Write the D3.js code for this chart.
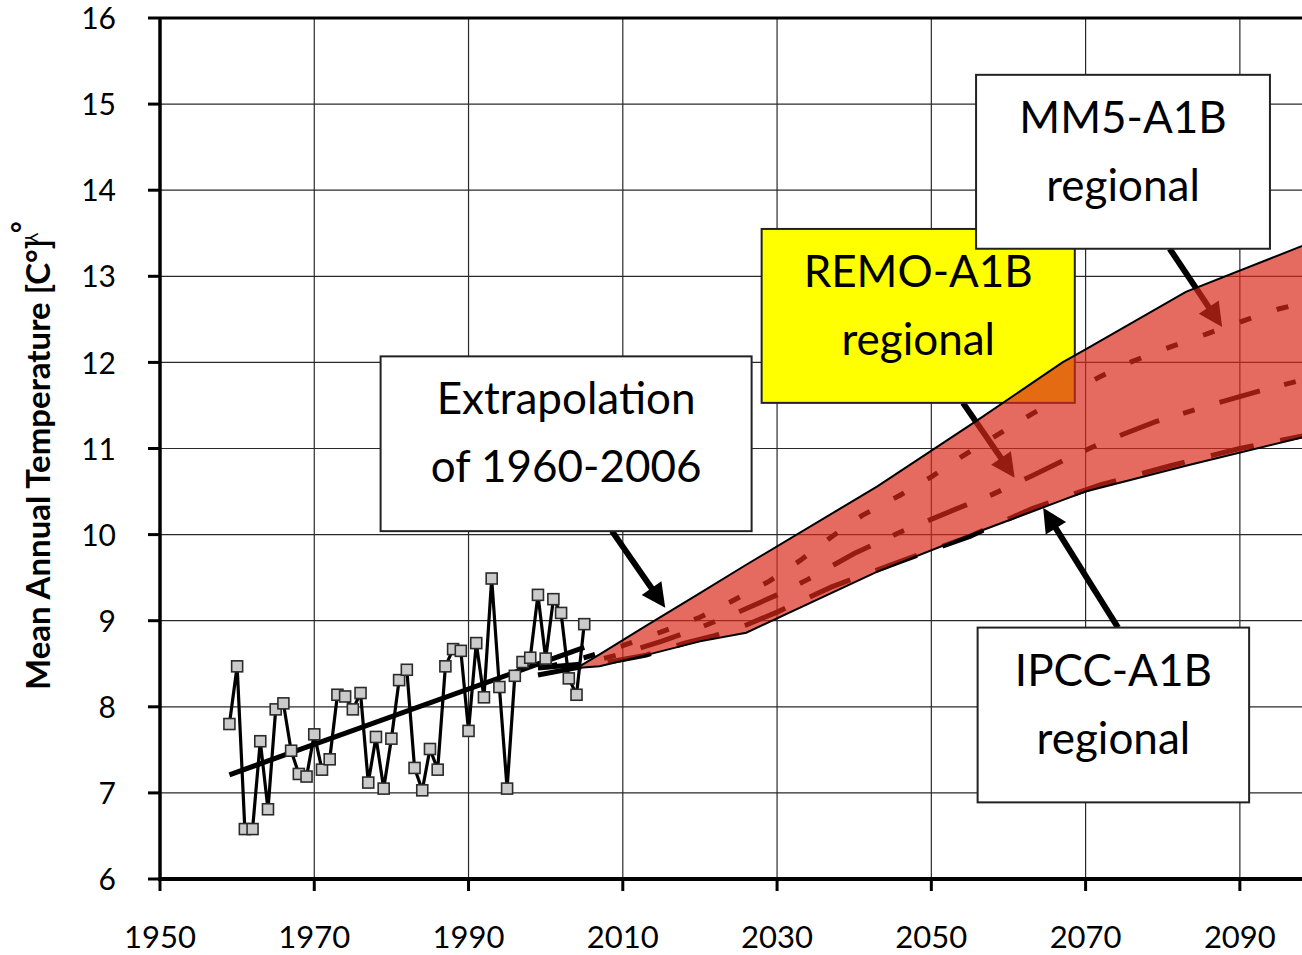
<!DOCTYPE html>
<html>
<head>
<meta charset="utf-8">
<script src="https://cdn.jsdelivr.net/npm/d3@7"></script>
<style>
  html, body { margin: 0; padding: 0; background: #fff; }
  svg { display: block; font-family: Lato, "Open Sans", sans-serif; }
</style>
</head>
<body>
<svg id="chart" width="1302" height="955"></svg>
<script>
// Observed annual means, 1959–2005
const obsYears = d3.range(1959, 2006);
const obsValues = [
  7.80, 8.47, 6.58, 6.58, 7.60, 6.81, 7.97, 8.04, 7.49, 7.22,
  7.19, 7.68, 7.27, 7.39, 8.14, 8.12, 7.97, 8.16, 7.12, 7.65,
  7.05, 7.63, 8.31, 8.43, 7.29, 7.03, 7.51, 7.27, 8.47, 8.67,
  8.65, 7.72, 8.74, 8.11, 9.49, 8.23, 7.05, 8.36, 8.52, 8.57,
  9.30, 8.56, 9.25, 9.09, 8.33, 8.14, 8.96
];

// Linear trend of the observations
const trendYears = [1959, 2005];
const trendValues = [7.21, 8.69];

// Range of the regional A1B projections
const bandYears = [2004, 2007, 2013, 2020, 2026, 2043, 2056, 2067, 2070, 2083, 2100];
const bandUpper = [8.45, 8.61, 8.94, 9.32, 9.65, 10.56, 11.33, 12.00, 12.15, 12.82, 13.42];
const bandLower = [8.45, 8.47, 8.60, 8.76, 8.86, 9.57, 10.03, 10.40, 10.50, 10.80, 11.17];

// MM5-A1B regional projection
const mm5Years = [2000, 2005, 2010, 2015, 2020, 2024, 2029, 2033, 2037, 2041, 2046, 2050, 2054, 2063, 2072, 2076, 2081, 2086, 2091, 2095, 2100];
const mm5Values = [8.46, 8.57, 8.71, 8.87, 9.04, 9.22, 9.46, 9.70, 9.97, 10.22, 10.46, 10.67, 10.91, 11.40, 11.84, 12.01, 12.18, 12.34, 12.50, 12.62, 12.73];

// REMO-A1B regional projection
const remoYears = [1999, 2005, 2010, 2015, 2020, 2025, 2030, 2034, 2040, 2046, 2053, 2058, 2063, 2068, 2073, 2079, 2086, 2093, 2100];
const remoValues = [8.45, 8.50, 8.62, 8.76, 8.92, 9.10, 9.30, 9.48, 9.78, 10.03, 10.29, 10.47, 10.68, 10.90, 11.10, 11.31, 11.50, 11.68, 11.84];

// IPCC-A1B regional projection
const ipccYears = [1999, 2005, 2010, 2013, 2018, 2022, 2026, 2030, 2037, 2046, 2055, 2063, 2072, 2081, 2090, 2100];
const ipccValues = [8.37, 8.47, 8.55, 8.60, 8.74, 8.83, 8.95, 9.10, 9.39, 9.69, 9.98, 10.30, 10.58, 10.80, 11.00, 11.18];

// Axis ticks
const xTicks = [1950, 1970, 1990, 2010, 2030, 2050, 2070, 2090];
const yTicks = [6, 7, 8, 9, 10, 11, 12, 13, 14, 15, 16];

// Callout boxes (in data units: year span and temperature span) and their arrows
const calloutLines = [
  ["Extrapolation", "of 1960-2006"],
  ["REMO-A1B", "regional"],
  ["MM5-A1B", "regional"],
  ["IPCC-A1B", "regional"]
];
const calloutX0 = [1978.6, 2028.0, 2055.8, 2056.0];
const calloutX1 = [2026.7, 2068.6, 2093.9, 2091.2];
const calloutY0 = [12.07, 13.55, 15.34, 8.92];
const calloutY1 = [10.04, 11.53, 13.32, 6.89];
const calloutFill = ["#ffffff", "#ffff00", "#ffffff", "#ffffff"];
const arrowFrom = [[2008.6, 10.04], [2054.1, 11.53], [2080.9, 13.32], [2074.2, 8.92]];
const arrowTo = [[2015.5, 9.15], [2060.8, 10.66], [2087.7, 12.41], [2064.5, 10.31]];

const svg = d3.select("#chart");
const x = d3.scaleLinear().domain([1950, 2100]).range([160, 1317]);
const y = d3.scaleLinear().domain([6, 16]).range([879, 18]);

const zip = (xs, ys) => xs.map((v, i) => [v, ys[i]]);
const line = d3.line().x(d => x(d[0])).y(d => y(d[1]));

// Grid
const grid = svg.append("g");
grid.selectAll("line.v").data(xTicks.filter(t => t > 1950)).join("line")
  .attr("x1", d => x(d)).attr("x2", d => x(d))
  .attr("y1", y(16)).attr("y2", y(6))
  .attr("stroke", "#2a2a2a").attr("stroke-width", 1.2);
grid.selectAll("line.h").data(yTicks.filter(t => t > 6)).join("line")
  .attr("x1", x(1950)).attr("x2", x(2100))
  .attr("y1", d => y(d)).attr("y2", d => y(d))
  .attr("stroke", "#2a2a2a").attr("stroke-width", 1.2);

// Projection lines (drawn under the range band)
const proj = svg.append("g").attr("fill", "none").attr("stroke", "#000").attr("stroke-width", 5);
proj.append("path").attr("d", line(zip(ipccYears, ipccValues))).attr("stroke-dasharray", "44,27");
proj.append("path").attr("d", line(zip(remoYears, remoValues))).attr("stroke-dasharray", "42,25,12,26");
proj.append("path").attr("d", line(zip(mm5Years, mm5Values))).attr("stroke-dasharray", "12,27");

// Arrows
const arrows = svg.append("g");
arrowFrom.forEach((a, i) => {
  const x0 = x(a[0]), y0 = y(a[1]);
  const x1 = x(arrowTo[i][0]), y1 = y(arrowTo[i][1]);
  const ang = Math.atan2(y1 - y0, x1 - x0);
  const headL = 24, headW = 12;
  const bx = x1 - headL * Math.cos(ang), by = y1 - headL * Math.sin(ang);
  arrows.append("line")
    .attr("x1", x0).attr("y1", y0).attr("x2", bx + 2 * Math.cos(ang)).attr("y2", by + 2 * Math.sin(ang))
    .attr("stroke", "#000").attr("stroke-width", 6);
  const px = -Math.sin(ang), py = Math.cos(ang);
  arrows.append("path")
    .attr("d", `M${x1},${y1}L${bx + headW * px},${by + headW * py}L${bx - headW * px},${by - headW * py}Z`)
    .attr("fill", "#000");
});

// Callout boxes
const boxes = svg.append("g");
calloutLines.forEach((lines, i) => {
  const bx0 = x(calloutX0[i]), bx1 = x(calloutX1[i]);
  const by0 = y(calloutY0[i]), by1 = y(calloutY1[i]);
  boxes.append("rect")
    .attr("x", bx0).attr("y", by0).attr("width", bx1 - bx0).attr("height", by1 - by0)
    .attr("fill", calloutFill[i]).attr("stroke", "#222").attr("stroke-width", 2);
  lines.forEach((t, j) => {
    boxes.append("text")
      .attr("x", (bx0 + bx1) / 2).attr("y", by0 + 58 + j * 68)
      .attr("text-anchor", "middle").attr("font-size", 44).attr("fill", "#000")
      .text(t);
  });
});

// Range band of the projections
const area = d3.area().x(d => x(d[0])).y0(d => y(d[2])).y1(d => y(d[1]));
const bandData = bandYears.map((yr, i) => [yr, bandUpper[i], bandLower[i]]);
svg.append("path").attr("d", area(bandData))
  .attr("fill", "rgb(217,40,26)").attr("fill-opacity", 0.69);
svg.append("path").attr("d", line(zip(bandYears, bandUpper)))
  .attr("fill", "none").attr("stroke", "#000").attr("stroke-width", 2);
svg.append("path").attr("d", line(zip(bandYears, bandLower)))
  .attr("fill", "none").attr("stroke", "#000").attr("stroke-width", 2);

// Trend line
svg.append("path").attr("d", line(zip(trendYears, trendValues)))
  .attr("fill", "none").attr("stroke", "#000").attr("stroke-width", 5);

// Observations
const obs = zip(obsYears, obsValues);
svg.append("path").attr("d", line(obs))
  .attr("fill", "none").attr("stroke", "#000").attr("stroke-width", 3.2).attr("stroke-linejoin", "miter");
svg.append("g").selectAll("rect").data(obs).join("rect")
  .attr("x", d => x(d[0]) - 5.5).attr("y", d => y(d[1]) - 5.5)
  .attr("width", 11).attr("height", 11)
  .attr("fill", "#cbcbcb").attr("stroke", "#2b2b2b").attr("stroke-width", 1.6);

// Axes
const axes = svg.append("g");
axes.append("line").attr("x1", x(1950)).attr("x2", x(1950)).attr("y1", y(16)).attr("y2", y(6) + 2)
  .attr("stroke", "#000").attr("stroke-width", 3.5);
axes.append("line").attr("x1", x(1950) - 2).attr("x2", 1302).attr("y1", y(6)).attr("y2", y(6))
  .attr("stroke", "#000").attr("stroke-width", 4);
axes.append("line").attr("x1", x(1950)).attr("x2", 1302).attr("y1", y(16)).attr("y2", y(16))
  .attr("stroke", "#000").attr("stroke-width", 3);
axes.selectAll("line.yt").data(yTicks).join("line")
  .attr("x1", x(1950) - 12).attr("x2", x(1950))
  .attr("y1", d => y(d)).attr("y2", d => y(d))
  .attr("stroke", "#000").attr("stroke-width", 3);
axes.selectAll("line.xt").data(xTicks).join("line")
  .attr("x1", d => x(d)).attr("x2", d => x(d))
  .attr("y1", y(6)).attr("y2", y(6) + 12)
  .attr("stroke", "#000").attr("stroke-width", 3);
axes.selectAll("text.yl").data(yTicks).join("text")
  .attr("x", 116).attr("y", d => y(d)).attr("dy", "0.37em")
  .attr("text-anchor", "end").attr("font-size", 30).text(d => d);
axes.selectAll("text.xl").data(xTicks).join("text")
  .attr("x", d => x(d)).attr("y", 948)
  .attr("text-anchor", "middle").attr("font-size", 31).text(d => d);

// Axis title
const title = svg.append("text")
  .attr("transform", "translate(50,690) rotate(-90)")
  .attr("text-anchor", "start").attr("font-size", 33).attr("font-weight", "bold");
title.append("tspan").text("Mean Annual Temperature [C°]");
title.append("tspan").attr("dy", -12).attr("dx", -4).attr("font-size", 18).attr("font-weight", "normal").text("⅄");
title.append("tspan").attr("dy", -6).attr("font-size", 28).text("°");
</script>
</body>
</html>
